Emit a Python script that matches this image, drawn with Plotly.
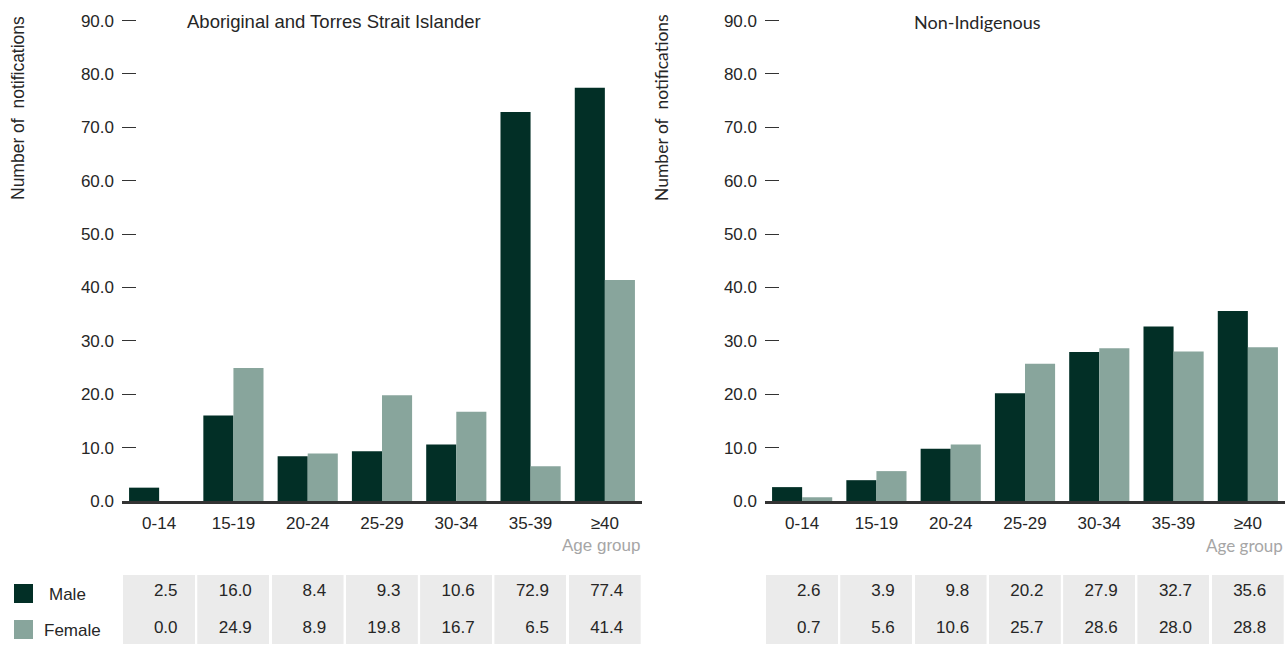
import plotly.graph_objects as go

# ---------------- data ----------------
age_groups = ["0-14", "15-19", "20-24", "25-29", "30-34", "35-39", "≥40"]
indig_male = [2.5, 16.0, 8.4, 9.3, 10.6, 72.9, 77.4]
indig_female = [0.0, 24.9, 8.9, 19.8, 16.7, 6.5, 41.4]
nonind_male = [2.6, 3.9, 9.8, 20.2, 27.9, 32.7, 35.6]
nonind_female = [0.7, 5.6, 10.6, 25.7, 28.6, 28.0, 28.8]
y_ticks = [0, 10, 20, 30, 40, 50, 60, 70, 80, 90]
series_names = ["Male", "Female"]
panel_titles = ["Aboriginal and Torres Strait Islander", "Non-Indigenous"]

# ---------------- style ----------------
W, H = 1288, 645
MALE_C = "#022f26"
FEMALE_C = "#88a59c"
TXT = "#262626"
ARIAL = "Liberation Sans, Arial, sans-serif"
CAL = "Lato, Carlito, Calibri, sans-serif"


def px(x):
    return x / W


def py(y):
    return 1 - y / H


panels = [
    dict(x0=122, x1=642, male=indig_male, female=indig_female, tfont=ARIAL, title_x=334, ytitle_x=18, tsize=18.5),
    dict(x0=765, x1=1285, male=nonind_male, female=nonind_female, tfont=CAL, title_x=977, ytitle_x=662, tsize=18),
]

fig = go.Figure()
layout = dict(
    width=W, height=H, margin=dict(l=0, r=0, t=0, b=0, autoexpand=False),
    paper_bgcolor="white", plot_bgcolor="white",
    barmode="group", bargap=0.19, bargroupgap=0.0,
    showlegend=False, font=dict(family=ARIAL, size=17, color=TXT),
)
annotations = []
shapes = []

for i, p in enumerate(panels):
    xa = "x" if i == 0 else "x2"
    ya = "y" if i == 0 else "y2"
    for name, vals, col in [(series_names[0], p["male"], MALE_C), (series_names[1], p["female"], FEMALE_C)]:
        fig.add_trace(go.Bar(x=age_groups, y=vals, name=name, marker=dict(color=col, line=dict(width=0)),
                             xaxis=xa, yaxis=ya, hoverinfo="x+y+name"))
    kx = "xaxis" if i == 0 else "xaxis2"
    ky = "yaxis" if i == 0 else "yaxis2"
    layout[kx] = dict(
        domain=[px(p["x0"]), px(p["x1"])], anchor=ya, type="category",
        categoryorder="array", categoryarray=age_groups, range=[-0.5, 6.5],
        showline=True, linecolor="#333333", linewidth=2.5, ticks="",
        showgrid=False, zeroline=False, ticklabelstandoff=5, automargin=False,
        tickfont=dict(family=ARIAL, size=17, color=TXT), fixedrange=True,
    )
    layout[ky] = dict(
        domain=[py(501), py(19)], anchor=xa, range=[0, 90.3], tickvals=y_ticks,
        tickformat=".1f", ticks="inside", ticklen=14, tickcolor="#333333", tickwidth=1.3,
        showgrid=False, zeroline=False, showline=False, ticklabelstandoff=7, automargin=False,
        tickfont=dict(family=ARIAL, size=17, color=TXT), fixedrange=True,
    )
    # panel title
    annotations.append(dict(text=panel_titles[i], x=px(p["title_x"]), y=py(22), xref="paper", yref="paper",
                            xanchor="center", yanchor="middle", showarrow=False,
                            font=dict(family=p["tfont"], size=p["tsize"], color=TXT)))
    # y-axis title
    annotations.append(dict(text="Number of  notifications", x=px(p["ytitle_x"]), y=py(108), xref="paper",
                            yref="paper", xanchor="center", yanchor="middle", textangle=-90, showarrow=False,
                            font=dict(family=p["tfont"], size=17.5, color=TXT)))
    # x-axis title
    annotations.append(dict(text="Age group", x=px(p["x1"]), y=py(545), xref="paper", yref="paper",
                            xanchor="right", yanchor="middle", showarrow=False,
                            font=dict(family=p["tfont"], size=17, color="#a6a6a6")))
    # data table, one column per age group
    colw = (p["x1"] - p["x0"]) / len(age_groups)
    for j in range(len(age_groups)):
        cx0 = p["x0"] + j * colw + 1
        cx1 = p["x0"] + (j + 1) * colw - 1
        fig.add_trace(go.Table(
            domain=dict(x=[px(cx0), px(cx1)], y=[0, py(575)]),
            header=dict(values=[f"{p['male'][j]:.1f}\u00a0\u00a0"], fill_color="#ebebeb",
                        line=dict(color="#ebebeb", width=0), align="right", height=37,
                        font=dict(family=ARIAL, size=17, color=TXT)),
            cells=dict(values=[[f"{p['female'][j]:.1f}\u00a0\u00a0"]], fill_color="#ebebeb",
                       line=dict(color="#ebebeb", width=0), align="right", height=33,
                       font=dict(family=ARIAL, size=17, color=TXT)),
        ))

# legend keys
for name, col, ytop, tx in [(series_names[0], MALE_C, 584, 47), (series_names[1], FEMALE_C, 620, 42)]:
    shapes.append(dict(type="rect", xref="paper", yref="paper", x0=px(14), x1=px(33),
                       y0=py(ytop + 19), y1=py(ytop), fillcolor=col, line=dict(width=0)))
    annotations.append(dict(text=name, x=px(tx), y=py(ytop + 10), xref="paper", yref="paper",
                            xanchor="left", yanchor="middle", showarrow=False,
                            font=dict(family=ARIAL, size=17, color=TXT)))

layout["annotations"] = annotations
layout["shapes"] = shapes
fig.update_layout(**layout)
fig.write_html("out.html", config={"displayModeBar": False},
               post_script="document.body.style.margin='0';document.body.style.overflow='hidden';")
